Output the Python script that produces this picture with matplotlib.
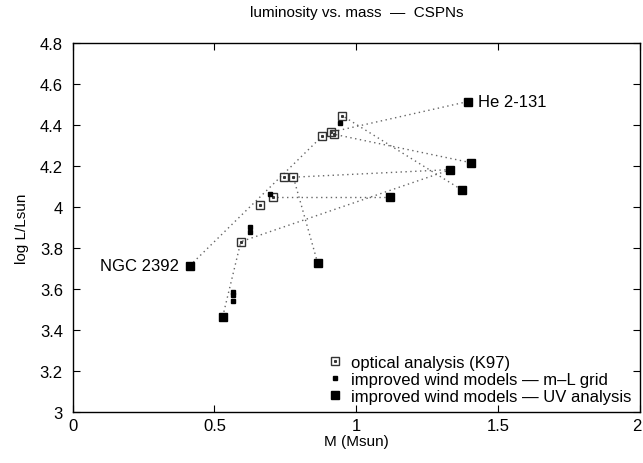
import numpy as np
import matplotlib.pyplot as plt
from matplotlib.transforms import ScaledTranslation

plt.rcParams['font.family'] = ['Liberation Sans', 'DejaVu Sans']

# optical analysis (K97)
opt_m = [0.950, 0.909, 0.922, 0.879, 0.746, 0.778, 0.705, 0.659, 0.593]
opt_l = [4.445, 4.364, 4.354, 4.344, 4.145, 4.145, 4.050, 4.011, 3.831]

# improved wind models - m-L grid
ml_m = [0.942, 0.697, 0.626, 0.626, 0.564, 0.564, 0.566]
ml_l = [4.411, 4.065, 3.900, 3.878, 3.588, 3.570, 3.541]

# improved wind models - UV analysis
uv_m = [1.392, 1.403, 1.332, 1.371, 1.118, 0.864, 0.413, 0.529]
uv_l = [4.513, 4.216, 4.182, 4.084, 4.050, 3.726, 3.714, 3.466]

# (uv index, optical index) pairs joined by dotted lines
links = [(0, 1), (1, 2), (2, 5), (3, 0), (4, 6), (5, 5), (6, 3), (7, 8), (2, 8)]

fig = plt.figure(figsize=(6.43, 4.64), dpi=100)
ax = fig.add_axes([0.113, 0.1093, 0.8823, 0.7965])

for u, o in links:
    ax.plot([uv_m[u], opt_m[o]], [uv_l[u], opt_l[o]], ls=(0, (1, 2.5)),
            color='#666666', lw=1.0)

h_box, = ax.plot(opt_m, opt_l, ls='none', marker='s', ms=6, mfc='none', mec='#333333', mew=1.0)
h_dot, = ax.plot(opt_m, opt_l, ls='none', marker='s', ms=1.2, color='#333333')
h_ml, = ax.plot(ml_m, ml_l, ls='none', marker='s', ms=2.8, color='black')
h_uv, = ax.plot(uv_m, uv_l, ls='none', marker='s', ms=6, color='black')

ax.text(1.43, 4.513, 'He 2-131', fontsize=12, va='center', ha='left')
ax.text(0.375, 3.714, 'NGC 2392', fontsize=12, va='center', ha='right')

ax.set_xlim(0, 2)
ax.set_ylim(3, 4.8)
ax.set_xticks([0, 0.5, 1, 1.5, 2])
ax.set_xticklabels(['0', '0.5', '1', '1.5', '2'])
yt = np.round(np.arange(3, 4.81, 0.2), 1)
ax.set_yticks(yt)
ax.set_yticklabels(['%g' % v for v in yt])
ax.tick_params(direction='in', top=True, right=True, length=5, labelsize=12)
ax.tick_params(axis='y', pad=7)
ax.tick_params(axis='x', pad=4)
for s in ax.spines.values():
    s.set_linewidth(1.0)
# keep the last x label inside the canvas
last = ax.get_xticklabels()[-1]
last.set_transform(last.get_transform() + ScaledTranslation(-3 / 100, 0, fig.dpi_scale_trans))

ax.set_xlabel('M (Msun)', fontsize=11, labelpad=1)
ax.set_ylabel('log L/Lsun', fontsize=11, labelpad=8)
ax.set_title('luminosity vs. mass  —  CSPNs', fontsize=11, pad=19)

ax.legend([(h_box, h_dot), h_ml, h_uv],
          ['optical analysis (K97)', 'improved wind models — m–L grid',
           'improved wind models — UV analysis'],
          loc='lower right', frameon=False, fontsize=12, handletextpad=0.5,
          borderaxespad=0.1, labelspacing=0.12, handlelength=1.0)

fig.savefig('out.png', dpi=100)
